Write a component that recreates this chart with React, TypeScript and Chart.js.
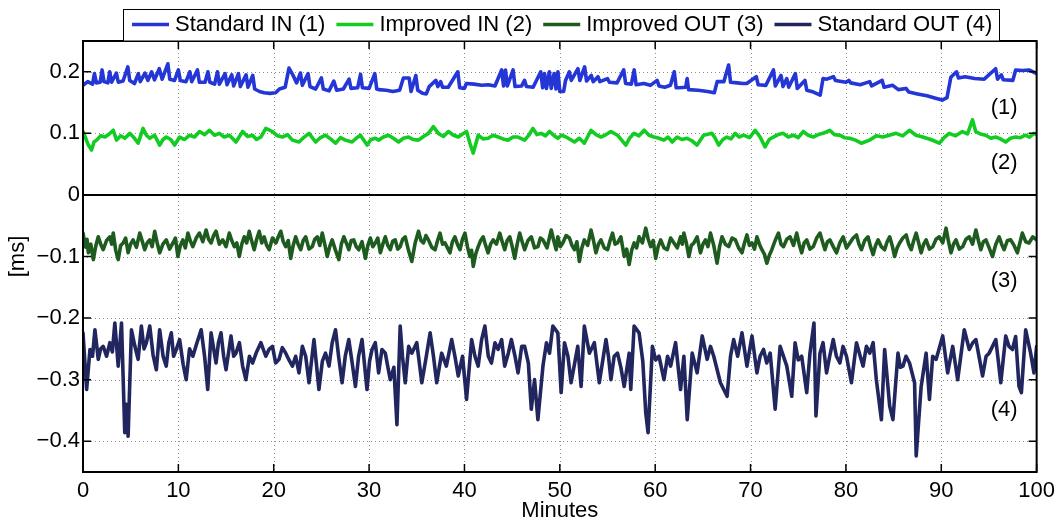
import React, { useEffect, useRef } from "react";
import { Chart, registerables } from "chart.js";

Chart.register(...registerables);

const FONT_FAMILY = '"Liberation Sans", Arial, Helvetica, sans-serif';

const seriesNames = ["Standard IN (1)", "Improved IN (2)", "Improved OUT (3)", "Standard OUT (4)"];
const seriesColors = ["#2536d6", "#12cc22", "#1e5b1f", "#21265f"];

// Series 1: Standard IN
const s1Minutes = [
  0, 0.5, 1, 1.2, 1.4, 1.8, 2, 2.2, 2.6, 2.8, 3, 3.5, 3.7, 4.2, 4.7, 4.9, 5.4, 5.8, 6, 6.5,
  6.8, 7.2, 7.5, 8, 8.3, 8.9, 9.1, 9.6, 10, 10.2, 10.8, 11.2, 11.4, 12, 12.2, 12.8, 13.1, 13.3, 13.8, 14.1,
  14.3, 14.9, 15.1, 15.6, 15.8, 16.3, 16.5, 17.1, 17.3, 17.8, 18, 18.5, 19, 19.6, 20.2, 20.6, 21.2, 21.6, 22, 22.4,
  22.8, 23, 23.6, 23.8, 24.4, 25, 25.2, 25.8, 26.3, 26.6, 27.3, 27.9, 28.1, 28.8, 29.1, 29.3, 30, 30.6, 30.8,
  31, 31.8, 32.5, 33.2, 33.6, 34.2, 34.4, 34.9, 35.1, 35.6, 36, 36.3, 37, 37.2, 37.5, 37.7, 38.3, 39.3, 39.5, 40,
  40.2, 41, 41.8, 42.5, 43.2, 43.9, 44.1, 44.3, 44.5, 45.1, 45.3, 46, 46.3, 46.5, 47.2, 48, 48.2, 48.4, 48.6, 48.9,
  49.1, 49.4, 49.6, 49.8, 50, 50.4, 50.6, 51, 51.2, 51.9, 52.1, 52.6, 52.8, 53.3, 53.5, 54, 54.2, 55, 55.2, 56,
  56.7, 56.9, 57.5, 57.8, 58, 58.8, 59.5, 60.2, 60.4, 61, 61.6, 62, 62.2,
  62.5, 63.2, 63.35, 63.5, 64.5, 65.5, 66.2, 66.5, 67.2, 67.7, 67.9, 68.6, 69.2, 69.6, 70.6, 70.8, 71.6, 72.4, 72.6, 73.2,
  73.4, 73.8, 74, 74.7, 74.9, 75.7, 75.9, 76.6, 77.3, 77.6, 78, 78.7, 78.9, 80, 80.3, 80.5, 81.5, 82.5, 82.7, 83.8,
  84, 84.9, 85.5, 86.3, 86.6, 87.5, 88.5, 89.4, 90.1, 90.6, 91, 91.6, 91.8, 92.5, 93.5, 94.5, 95.7, 95.9, 96.3, 96.5,
  97.5, 97.8, 98.5, 99.2, 100,
];
const s1Values = [
  0.178, 0.184, 0.180, 0.197, 0.182, 0.183, 0.203, 0.184, 0.182, 0.200, 0.183, 0.198, 0.183, 0.185, 0.208, 0.186, 0.181, 0.197, 0.184, 0.198,
  0.186, 0.200, 0.187, 0.205, 0.188, 0.213, 0.188, 0.186, 0.203, 0.186, 0.184, 0.200, 0.184, 0.203, 0.183, 0.183, 0.200, 0.183, 0.180, 0.200,
  0.180, 0.197, 0.179, 0.195, 0.177, 0.197, 0.176, 0.195, 0.175, 0.194, 0.172, 0.168, 0.166, 0.165, 0.166, 0.172, 0.175, 0.206, 0.195, 0.182,
  0.198, 0.178, 0.197, 0.176, 0.172, 0.190, 0.172, 0.169, 0.185, 0.170, 0.172, 0.188, 0.173, 0.174, 0.196, 0.174, 0.173, 0.197, 0.172,
  0.171, 0.170, 0.168, 0.170, 0.190, 0.190, 0.168, 0.194, 0.170, 0.165, 0.164, 0.176, 0.186, 0.176, 0.184, 0.175, 0.175, 0.200, 0.174, 0.173,
  0.181, 0.180, 0.178, 0.179, 0.177, 0.203, 0.177, 0.203, 0.177, 0.203, 0.176, 0.177, 0.186, 0.176, 0.175, 0.200, 0.174, 0.197, 0.173, 0.200,
  0.173, 0.197, 0.172, 0.200, 0.168, 0.168, 0.186, 0.200, 0.186, 0.205, 0.186, 0.208, 0.185, 0.194, 0.184, 0.192, 0.184, 0.189, 0.183, 0.182,
  0.203, 0.181, 0.180, 0.203, 0.179, 0.181, 0.178, 0.186, 0.177, 0.175, 0.178, 0.200, 0.174,
  0.174, 0.175, 0.189, 0.171, 0.170, 0.168, 0.166, 0.184, 0.184, 0.211, 0.183, 0.182, 0.181, 0.181, 0.192, 0.179, 0.178, 0.203, 0.177, 0.194,
  0.176, 0.189, 0.175, 0.197, 0.173, 0.186, 0.170, 0.167, 0.162, 0.189, 0.188, 0.192, 0.186, 0.183, 0.186, 0.182, 0.179, 0.184, 0.177, 0.186,
  0.175, 0.178, 0.171, 0.173, 0.167, 0.164, 0.161, 0.157, 0.154, 0.158, 0.191, 0.200, 0.190, 0.192, 0.189, 0.188, 0.205, 0.188, 0.195, 0.187,
  0.186, 0.203, 0.202, 0.203, 0.197,
];

// Series 2: Improved IN, [minute, value]
const s2Points: [number, number][] = [
  [0, 0.103], [0.28, 0.092], [0.56, 0.081], [0.9, 0.073], [1.15, 0.086], [1.43, 0.089], [1.85, 0.096], [2.3, 0.094], [2.75, 0.099], [3.17, 0.105],
  [3.52, 0.089], [3.95, 0.096], [4.39, 0.092], [4.91, 0.1], [5.35, 0.093], [5.78, 0.084], [6.3, 0.108], [6.65, 0.097], [7, 0.092], [7.5, 0.097],
  [8.04, 0.081], [8.4, 0.09], [8.74, 0.094], [9.2, 0.09], [9.61, 0.081], [10.13, 0.094], [10.65, 0.09], [11.17, 0.097], [11.7, 0.094], [12.22, 0.103],
  [12.75, 0.098], [13.26, 0.105], [13.8, 0.097], [14.3, 0.1], [14.8, 0.094], [15.35, 0.097], [16.04, 0.086], [16.74, 0.103], [17.25, 0.095], [17.78, 0.097],
  [18.2, 0.09], [18.65, 0.094], [19.17, 0.108], [19.87, 0.103], [20.4, 0.096], [20.91, 0.094], [21.45, 0.098], [21.96, 0.089], [22.65, 0.086], [23.2, 0.094],
  [23.7, 0.1], [24.39, 0.086], [24.9, 0.093], [25.43, 0.097], [25.95, 0.091], [26.48, 0.084], [27, 0.093], [27.52, 0.089], [28.22, 0.086], [28.65, 0.092],
  [29.09, 0.097], [29.79, 0.081], [30.2, 0.09], [30.66, 0.092], [31, 0.089], [31.5, 0.094], [32.04, 0.097], [32.55, 0.092], [33.09, 0.086], [33.6, 0.092],
  [34.13, 0.094], [34.65, 0.09], [35.18, 0.089], [35.7, 0.095], [36.22, 0.1], [36.74, 0.111], [37.26, 0.1], [37.8, 0.095], [38.31, 0.103], [38.85, 0.097],
  [39.35, 0.094], [39.8, 0.099], [40.22, 0.103], [40.57, 0.084], [40.92, 0.068], [41.44, 0.097], [41.95, 0.091], [42.48, 0.092], [43, 0.097], [43.53, 0.094],
  [44.05, 0.091], [44.57, 0.089], [45.1, 0.094], [45.61, 0.094], [46.31, 0.089], [46.75, 0.097], [47.18, 0.108], [47.6, 0.098], [48.05, 0.1], [48.5, 0.096],
  [48.92, 0.103], [49.35, 0.097], [49.79, 0.092], [50.2, 0.097], [50.66, 0.094], [51.1, 0.09], [51.53, 0.086], [52.05, 0.092], [52.57, 0.084], [53.27, 0.105],
  [53.8, 0.098], [54.31, 0.094], [54.85, 0.098], [55.36, 0.103], [56.05, 0.097], [56.92, 0.081], [57.35, 0.093], [57.79, 0.1], [58.3, 0.096], [58.84, 0.105],
  [59.35, 0.097], [59.88, 0.094], [60.4, 0.092], [60.92, 0.089], [61.35, 0.094], [61.79, 0.086], [62.3, 0.094], [62.8, 0.09], [63.34, 0.092], [63.85, 0.088],
  [64.39, 0.081], [65.08, 0.097], [65.95, 0.1], [66.3, 0.092], [66.65, 0.081], [67.1, 0.09], [67.52, 0.094], [67.95, 0.091], [68.39, 0.1], [68.8, 0.094],
  [69.26, 0.097], [69.9, 0.093], [70.48, 0.105], [71, 0.094], [71.52, 0.078], [71.95, 0.09], [72.39, 0.094], [72.9, 0.098], [73.43, 0.1], [73.95, 0.094],
  [74.48, 0.097], [75, 0.093], [75.52, 0.103], [76.05, 0.097], [76.57, 0.094], [77.1, 0.098], [77.61, 0.1], [78.3, 0.105], [78.8, 0.098], [79.35, 0.097],
  [79.85, 0.093], [80.39, 0.092], [81, 0.089], [81.61, 0.084], [82.48, 0.089], [83.2, 0.096], [83.87, 0.094], [84.55, 0.097], [85.26, 0.1], [85.95, 0.096],
  [86.66, 0.105], [87.35, 0.097], [88.05, 0.094], [88.9, 0.09], [89.79, 0.084], [90.3, 0.093], [90.83, 0.1], [91.5, 0.096], [92.22, 0.103], [92.75, 0.099],
  [93.27, 0.122], [93.61, 0.103], [94.1, 0.099], [94.66, 0.097], [95.2, 0.092], [95.7, 0.094], [96.2, 0.091], [96.75, 0.086], [97.25, 0.092], [97.79, 0.094],
  [98.3, 0.093], [98.83, 0.097], [99.25, 0.094], [99.7, 0.1], [100, 0.098],
];

// Series 3: Improved OUT, [minute, value]
const s3Points: [number, number][] = [
  [0, -0.062], [0.28, -0.085], [0.42, -0.072], [0.56, -0.094], [0.82, -0.08], [1.08, -0.105], [1.34, -0.083], [1.6, -0.068], [1.86, -0.08], [2.12, -0.089],
  [2.47, -0.074], [2.82, -0.068], [3, -0.08], [3.17, -0.062], [3.43, -0.09], [3.69, -0.105], [3.95, -0.082], [4.21, -0.078], [4.47, -0.07], [4.73, -0.094],
  [4.99, -0.08], [5.25, -0.073], [5.6, -0.085], [5.95, -0.062], [6.21, -0.075], [6.47, -0.089], [6.73, -0.078], [6.99, -0.073], [7.25, -0.084], [7.52, -0.059],
  [7.78, -0.078], [8.04, -0.094], [8.38, -0.08], [8.73, -0.073], [9.08, -0.088], [9.43, -0.078], [9.69, -0.07], [9.95, -0.1], [10.21, -0.082], [10.47, -0.073],
  [10.73, -0.086], [11, -0.062], [11.26, -0.075], [11.52, -0.084], [11.87, -0.07], [12.21, -0.062], [12.56, -0.076], [12.91, -0.057], [13.17, -0.072], [13.43, -0.078],
  [13.69, -0.066], [13.95, -0.059], [14.3, -0.08], [14.65, -0.073], [15, -0.084], [15.34, -0.062], [15.6, -0.074], [15.87, -0.084], [16.13, -0.078], [16.39, -0.1],
  [16.65, -0.08], [16.91, -0.068], [17.17, -0.078], [17.43, -0.059], [17.69, -0.075], [17.95, -0.089], [18.21, -0.072], [18.48, -0.059], [18.74, -0.078], [19, -0.068],
  [19.26, -0.082], [19.52, -0.089], [19.87, -0.07], [20.22, -0.078], [20.48, -0.068], [20.74, -0.059], [21, -0.076], [21.26, -0.084], [21.52, -0.074], [21.78, -0.103],
  [22.04, -0.082], [22.3, -0.068], [22.56, -0.08], [22.83, -0.089], [23.09, -0.074], [23.35, -0.068], [23.7, -0.088], [24.04, -0.084], [24.3, -0.072], [24.57, -0.068],
  [24.83, -0.082], [25.09, -0.062], [25.35, -0.08], [25.61, -0.1], [25.87, -0.084], [26.13, -0.073], [26.48, -0.09], [26.83, -0.105], [27.09, -0.08], [27.35, -0.068],
  [27.61, -0.078], [27.87, -0.089], [28.13, -0.074], [28.39, -0.073], [28.65, -0.084], [28.91, -0.089], [29.26, -0.076], [29.61, -0.103], [29.87, -0.082], [30.13, -0.07],
  [30.39, -0.084], [30.65, -0.078], [30.91, -0.07], [31.18, -0.094], [31.44, -0.08], [31.7, -0.068], [31.96, -0.082], [32.22, -0.089], [32.48, -0.075], [32.74, -0.073],
  [33, -0.088], [33.26, -0.084], [33.52, -0.072], [33.79, -0.068], [34.13, -0.09], [34.48, -0.108], [34.83, -0.078], [35.18, -0.059], [35.44, -0.074], [35.7, -0.078],
  [35.96, -0.066], [36.22, -0.073], [36.57, -0.085], [36.92, -0.089], [37.18, -0.074], [37.44, -0.062], [37.7, -0.08], [37.96, -0.078], [38.22, -0.086], [38.48, -0.094],
  [38.74, -0.076], [39, -0.068], [39.26, -0.08], [39.53, -0.089], [39.79, -0.072], [40.05, -0.062], [40.31, -0.084], [40.57, -0.1], [40.75, -0.09], [40.92, -0.116],
  [41.18, -0.096], [41.44, -0.084], [41.7, -0.074], [41.96, -0.068], [42.22, -0.082], [42.48, -0.094], [42.74, -0.08], [43.01, -0.073], [43.35, -0.08], [43.7, -0.062],
  [43.96, -0.076], [44.22, -0.089], [44.48, -0.074], [44.75, -0.068], [45.01, -0.084], [45.27, -0.103], [45.53, -0.08], [45.79, -0.062], [46.05, -0.076], [46.31, -0.089],
  [46.66, -0.074], [47.01, -0.068], [47.35, -0.086], [47.7, -0.084], [47.96, -0.07], [48.23, -0.073], [48.66, -0.086], [49.1, -0.057], [49.36, -0.074], [49.62, -0.089],
  [49.79, -0.068], [50.05, -0.084], [50.31, -0.078], [50.66, -0.066], [51.01, -0.07], [51.27, -0.082], [51.53, -0.089], [51.79, -0.076], [52.05, -0.108], [52.31, -0.086],
  [52.57, -0.073], [52.92, -0.082], [53.27, -0.057], [53.53, -0.074], [53.79, -0.094], [54.05, -0.08], [54.31, -0.073], [54.66, -0.086], [55.01, -0.089], [55.27, -0.074],
  [55.53, -0.062], [55.79, -0.08], [56.05, -0.078], [56.4, -0.068], [56.75, -0.1], [57.01, -0.088], [57.27, -0.113], [57.53, -0.09], [57.79, -0.078], [58.05, -0.086],
  [58.31, -0.068], [58.66, -0.078], [59.01, -0.054], [59.27, -0.072], [59.53, -0.084], [59.79, -0.074], [60.05, -0.103], [60.31, -0.084], [60.58, -0.073], [60.92, -0.086],
  [61.27, -0.089], [61.62, -0.07], [61.97, -0.078], [62.31, -0.086], [62.66, -0.068], [62.84, -0.08], [63.01, -0.062], [63.27, -0.078], [63.53, -0.1], [63.79, -0.082],
  [64.06, -0.078], [64.4, -0.068], [64.75, -0.094], [65.01, -0.08], [65.27, -0.073], [65.53, -0.084], [65.8, -0.062], [66.14, -0.082], [66.49, -0.111], [66.75, -0.084],
  [67.01, -0.068], [67.36, -0.08], [67.71, -0.084], [68.06, -0.07], [68.41, -0.073], [68.75, -0.086], [69.1, -0.094], [69.36, -0.078], [69.62, -0.065], [69.88, -0.082],
  [70.15, -0.078], [70.41, -0.088], [70.67, -0.068], [70.93, -0.08], [71.19, -0.089], [71.45, -0.096], [71.71, -0.111], [71.97, -0.098], [72.23, -0.089], [72.58, -0.074],
  [72.93, -0.062], [73.19, -0.08], [73.45, -0.084], [73.8, -0.072], [74.15, -0.068], [74.5, -0.082], [74.84, -0.062], [75.1, -0.08], [75.36, -0.094], [75.62, -0.078],
  [75.89, -0.073], [76.23, -0.088], [76.58, -0.084], [76.93, -0.07], [77.28, -0.062], [77.54, -0.076], [77.8, -0.089], [78.06, -0.076], [78.32, -0.073], [78.67, -0.084],
  [79.02, -0.094], [79.36, -0.078], [79.71, -0.068], [80.06, -0.086], [80.41, -0.078], [80.76, -0.07], [81.11, -0.065], [81.37, -0.08], [81.63, -0.089], [81.97, -0.074],
  [82.32, -0.068], [82.58, -0.084], [82.85, -0.097], [83.11, -0.082], [83.37, -0.073], [83.71, -0.084], [84.06, -0.089], [84.32, -0.076], [84.59, -0.068], [84.85, -0.082],
  [85.11, -0.1], [85.37, -0.086], [85.63, -0.078], [85.97, -0.07], [86.32, -0.065], [86.58, -0.08], [86.85, -0.089], [87.11, -0.074], [87.37, -0.062], [87.63, -0.078],
  [87.89, -0.094], [88.15, -0.08], [88.41, -0.073], [88.76, -0.088], [89.11, -0.084], [89.45, -0.072], [89.8, -0.068], [90.15, -0.078], [90.5, -0.054], [90.76, -0.076],
  [91.02, -0.094], [91.28, -0.08], [91.54, -0.073], [91.89, -0.088], [92.24, -0.084], [92.59, -0.072], [92.94, -0.068], [93.28, -0.08], [93.63, -0.057], [93.89, -0.074],
  [94.15, -0.089], [94.41, -0.076], [94.68, -0.073], [95.02, -0.086], [95.37, -0.1], [95.72, -0.08], [96.07, -0.068], [96.33, -0.08], [96.59, -0.089], [96.93, -0.074],
  [97.28, -0.073], [97.63, -0.082], [97.98, -0.094], [98.24, -0.078], [98.5, -0.062], [98.85, -0.076], [99.2, -0.078], [99.6, -0.068], [100, -0.073],
];

// Series 4: Standard OUT, [minute, value]
const s4Points: [number, number][] = [
  [0, -0.224], [0.38, -0.316], [0.73, -0.251], [1, -0.262], [1.25, -0.219], [1.6, -0.267], [1.85, -0.25], [2.12, -0.246], [2.47, -0.262], [2.82, -0.24],
  [3.08, -0.255], [3.34, -0.208], [3.69, -0.278], [4.04, -0.208], [4.38, -0.386], [4.55, -0.34], [4.73, -0.392], [5.08, -0.219], [5.43, -0.245], [5.78, -0.267],
  [6.12, -0.213], [6.4, -0.25], [6.65, -0.24], [7, -0.213], [7.35, -0.26], [7.69, -0.284], [8.04, -0.219], [8.4, -0.262], [8.73, -0.278], [9, -0.24],
  [9.26, -0.224], [9.5, -0.262], [9.78, -0.251], [10.13, -0.235], [10.5, -0.275], [10.82, -0.3], [11.17, -0.25], [11.52, -0.262], [11.95, -0.24], [12.39, -0.219],
  [12.75, -0.262], [13.08, -0.316], [13.43, -0.224], [13.95, -0.273], [14.2, -0.24], [14.47, -0.224], [14.75, -0.262], [15, -0.284], [15.52, -0.229], [15.8, -0.262],
  [16.04, -0.257], [16.4, -0.24], [16.74, -0.278], [17.08, -0.3], [17.45, -0.262], [17.78, -0.273], [18.2, -0.255], [18.65, -0.24], [19.17, -0.262], [19.5, -0.251],
  [19.87, -0.246], [20.2, -0.273], [20.56, -0.267], [20.9, -0.248], [21.26, -0.257], [21.6, -0.268], [21.96, -0.278], [22.3, -0.262], [22.65, -0.289], [23, -0.246],
  [23.35, -0.262], [23.7, -0.305], [24.22, -0.235], [24.74, -0.316], [25.1, -0.27], [25.43, -0.257], [25.8, -0.278], [26.13, -0.24], [26.48, -0.219], [26.8, -0.262],
  [27.17, -0.305], [27.5, -0.262], [27.87, -0.235], [28.2, -0.27], [28.57, -0.311], [28.9, -0.262], [29.26, -0.235], [29.78, -0.316], [30.05, -0.27], [30.31, -0.251],
  [30.65, -0.24], [31, -0.289], [31.35, -0.251], [31.7, -0.257], [31.95, -0.278], [32.22, -0.3], [32.6, -0.28], [32.92, -0.373], [33.26, -0.213], [33.5, -0.262],
  [33.79, -0.305], [34.15, -0.246], [34.48, -0.257], [35, -0.24], [35.53, -0.305], [36, -0.262], [36.4, -0.224], [36.75, -0.262], [37.09, -0.305], [37.61, -0.257],
  [38.1, -0.278], [38.66, -0.235], [39, -0.262], [39.35, -0.294], [39.8, -0.262], [40.22, -0.332], [40.75, -0.235], [41.1, -0.262], [41.44, -0.278], [41.8, -0.235],
  [42.14, -0.213], [42.5, -0.262], [42.83, -0.273], [43.2, -0.24], [43.53, -0.251], [43.9, -0.235], [44.22, -0.278], [44.6, -0.257], [44.92, -0.235], [45.3, -0.262],
  [45.62, -0.289], [46, -0.246], [46.31, -0.246], [46.7, -0.273], [47.01, -0.348], [47.35, -0.3], [47.7, -0.365], [48.23, -0.278], [48.6, -0.24], [48.92, -0.257],
  [49.27, -0.213], [49.79, -0.224], [50.14, -0.321], [50.49, -0.24], [50.85, -0.262], [51.18, -0.305], [51.88, -0.246], [52.23, -0.311], [52.57, -0.213], [53.1, -0.257],
  [53.62, -0.24], [54.14, -0.305], [54.84, -0.235], [55.1, -0.262], [55.36, -0.3], [55.7, -0.262], [56.05, -0.257], [56.4, -0.28], [56.75, -0.311], [57.27, -0.257],
  [57.44, -0.316], [57.79, -0.213], [58.31, -0.224], [58.7, -0.27], [59.01, -0.354], [59.25, -0.386], [59.71, -0.246], [60.05, -0.268], [60.4, -0.262], [60.92, -0.3],
  [61.3, -0.262], [61.62, -0.278], [62.14, -0.24], [62.66, -0.316], [63.01, -0.262], [63.36, -0.365], [63.88, -0.257], [64.4, -0.289], [64.93, -0.229], [65.45, -0.267],
  [65.8, -0.246], [66.14, -0.262], [66.84, -0.305], [67.54, -0.327], [67.9, -0.262], [68.23, -0.235], [68.65, -0.262], [69.1, -0.224], [69.62, -0.278], [70.15, -0.229],
  [70.67, -0.289], [71, -0.262], [71.36, -0.251], [71.7, -0.273], [72.06, -0.257], [72.58, -0.348], [73.1, -0.246], [73.8, -0.278], [74.32, -0.327], [74.67, -0.24],
  [75, -0.268], [75.36, -0.262], [75.89, -0.321], [76.23, -0.257], [76.65, -0.208], [76.86, -0.359], [77.28, -0.257], [77.6, -0.24], [77.97, -0.289], [78.3, -0.262],
  [78.67, -0.235], [79, -0.262], [79.37, -0.273], [79.7, -0.246], [80.06, -0.262], [80.58, -0.305], [81.11, -0.24], [81.5, -0.262], [81.8, -0.278], [82.15, -0.246],
  [82.5, -0.257], [82.85, -0.24], [83.19, -0.3], [83.72, -0.365], [84.06, -0.251], [84.59, -0.343], [84.93, -0.365], [85.46, -0.257], [85.7, -0.28], [85.98, -0.278],
  [86.3, -0.262], [86.67, -0.273], [87.2, -0.305], [87.37, -0.424], [87.89, -0.311], [88.41, -0.257], [88.76, -0.332], [89.1, -0.262], [89.46, -0.267], [90.15, -0.229],
  [90.67, -0.289], [91.2, -0.246], [91.72, -0.3], [92.41, -0.219], [92.94, -0.251], [93.3, -0.24], [93.63, -0.235], [94.33, -0.294], [94.7, -0.262], [95.02, -0.257],
  [95.72, -0.235], [96.24, -0.305], [96.76, -0.229], [97.1, -0.246], [97.46, -0.251], [97.8, -0.23], [98.15, -0.311], [98.4, -0.321], [98.85, -0.219], [99.37, -0.257],
  [99.72, -0.289], [100, -0.246],
];

const xTicks = [0, 10, 20, 30, 40, 50, 60, 70, 80, 90, 100];
const yTicks = [-0.4, -0.3, -0.2, -0.1, 0, 0.1, 0.2];
const xMin = 0;
const xMax = 100;
const yMin = -0.45;
const yMax = 0.25;

const xAxisTitle = "Minutes";
const yAxisTitle = "[ms]";

const curveLabels = ["(1)", "(2)", "(3)", "(4)"];
const curveLabelMinutes = [96.6, 96.6, 96.6, 96.6];
const curveLabelValues = [0.141, 0.052, -0.139, -0.35];

function zip(m: number[], v: number[]) {
  const n = Math.min(m.length, v.length);
  const out: { x: number; y: number }[] = [];
  for (let i = 0; i < n; i++) out.push({ x: m[i], y: v[i] });
  return out;
}

function fromPairs(p: [number, number][]) {
  return p.map(([x, y]) => ({ x, y }));
}

function fmtY(v: number) {
  if (Math.abs(v) < 1e-9) return "0";
  const s = Math.abs(v).toFixed(1);
  return v < 0 ? "\u2212" + s : s;
}

const FONT = `22px ${FONT_FAMILY}`;

const matlabPlugin = {
  id: "matlabAxes",
  beforeDatasetsDraw(chart: any) {
    const { ctx, chartArea: a, scales } = chart;
    const xs = scales.x;
    const ys = scales.y;
    ctx.save();
    ctx.strokeStyle = "#8c8c8c";
    ctx.lineWidth = 1;
    ctx.setLineDash([1, 3]);
    for (const t of xTicks) {
      if (t <= xMin || t >= xMax) continue;
      const px = Math.round(xs.getPixelForValue(t)) + 0.5;
      ctx.beginPath();
      ctx.moveTo(px, a.top);
      ctx.lineTo(px, a.bottom);
      ctx.stroke();
    }
    for (const t of yTicks) {
      if (t === 0) continue;
      const py = Math.round(ys.getPixelForValue(t)) + 0.5;
      ctx.beginPath();
      ctx.moveTo(a.left, py);
      ctx.lineTo(a.right, py);
      ctx.stroke();
    }
    ctx.restore();
  },
  afterDatasetsDraw(chart: any) {
    const { ctx, chartArea: a, scales } = chart;
    const xs = scales.x;
    const ys = scales.y;
    ctx.save();
    ctx.setLineDash([]);
    ctx.strokeStyle = "#000";
    const y0 = ys.getPixelForValue(0);
    ctx.lineWidth = 2;
    ctx.beginPath();
    ctx.moveTo(a.left, y0);
    ctx.lineTo(a.right, y0);
    ctx.stroke();
    ctx.lineWidth = 1.5;
    const tl = 8;
    ctx.beginPath();
    for (const t of xTicks) {
      const px = xs.getPixelForValue(t);
      ctx.moveTo(px, a.bottom);
      ctx.lineTo(px, a.bottom - tl);
      ctx.moveTo(px, a.top);
      ctx.lineTo(px, a.top + tl);
    }
    for (const t of yTicks) {
      const py = ys.getPixelForValue(t);
      ctx.moveTo(a.left, py);
      ctx.lineTo(a.left + tl, py);
      ctx.moveTo(a.right, py);
      ctx.lineTo(a.right - tl, py);
    }
    ctx.stroke();
    ctx.lineWidth = 2;
    ctx.strokeRect(a.left, a.top, a.right - a.left, a.bottom - a.top);
    ctx.fillStyle = "#000";
    ctx.font = FONT;
    ctx.textAlign = "center";
    ctx.textBaseline = "middle";
    for (let i = 0; i < curveLabels.length; i++) {
      ctx.fillText(curveLabels[i], xs.getPixelForValue(curveLabelMinutes[i]), ys.getPixelForValue(curveLabelValues[i]));
    }
    ctx.fillText(xAxisTitle, (a.left + a.right) / 2, 511);
    ctx.translate(18, (a.top + a.bottom) / 2);
    ctx.rotate(-Math.PI / 2);
    ctx.fillText(yAxisTitle, 0, 0);
    ctx.restore();
  },
  afterDraw(chart: any) {
    const { ctx } = chart;
    ctx.save();
    ctx.font = FONT;
    let x = 132;
    const items: { lx: number; tx: number }[] = [];
    let lastEnd = x;
    for (const name of seriesNames) {
      const w = ctx.measureText(name).width;
      items.push({ lx: x, tx: x + 43 });
      lastEnd = x + 43 + w;
      x = lastEnd + 11;
    }
    const left = 123.5;
    const right = Math.round(lastEnd + 7) + 0.5;
    ctx.fillStyle = "#fff";
    ctx.fillRect(left, 9.5, right - left, 31.5);
    ctx.strokeStyle = "#000";
    ctx.lineWidth = 1;
    ctx.strokeRect(left, 9.5, right - left, 31.5);
    ctx.textAlign = "left";
    ctx.textBaseline = "middle";
    seriesNames.forEach((name, i) => {
      ctx.strokeStyle = seriesColors[i];
      ctx.lineWidth = 3.5;
      ctx.beginPath();
      ctx.moveTo(items[i].lx, 24.5);
      ctx.lineTo(items[i].lx + 37, 24.5);
      ctx.stroke();
      ctx.fillStyle = "#000";
      ctx.fillText(name, items[i].tx, 25);
    });
    ctx.restore();
  },
};

export default function App() {
  const ref = useRef<HTMLCanvasElement>(null);
  useEffect(() => {
    const canvas = ref.current;
    if (!canvas) return;
    const data = [zip(s1Minutes, s1Values), fromPairs(s2Points), fromPairs(s3Points), fromPairs(s4Points)];
    const chart = new Chart(canvas, {
      type: "line",
      data: {
        datasets: data.map((d, i) => ({
          label: seriesNames[i],
          data: d,
          borderColor: seriesColors[i],
          backgroundColor: seriesColors[i],
          borderWidth: 3.6,
          pointRadius: 0,
          tension: 0,
          fill: false,
          borderJoinStyle: "round" as const,
          borderCapStyle: "round" as const,
        })),
      },
      options: {
        responsive: false,
        animation: false,
        devicePixelRatio: 1,
        layout: { padding: { top: 41, right: 20, bottom: 0, left: 0 } },
        plugins: { legend: { display: false }, tooltip: { enabled: false } },
        scales: {
          x: {
            type: "linear",
            min: xMin,
            max: xMax,
            afterBuildTicks: (s: any) => {
              s.ticks = xTicks.map((v) => ({ value: v }));
            },
            afterFit: (s: any) => {
              s.height = 50;
            },
            grid: { display: false, drawTicks: false },
            border: { display: false },
            ticks: {
              color: "#000",
              font: { family: FONT_FAMILY, size: 22 },
              padding: 6,
              maxRotation: 0,
              autoSkip: false,
              callback: (v: any) => String(v),
            },
          },
          y: {
            type: "linear",
            min: yMin,
            max: yMax,
            afterBuildTicks: (s: any) => {
              s.ticks = yTicks.map((v) => ({ value: v }));
            },
            afterFit: (s: any) => {
              s.width = 83;
            },
            grid: { display: false, drawTicks: false },
            border: { display: false },
            ticks: {
              color: "#000",
              font: { family: FONT_FAMILY, size: 22 },
              padding: 3,
              autoSkip: false,
              callback: (v: any) => fmtY(Number(v)),
            },
          },
        },
      },
      plugins: [matlabPlugin],
    });
    return () => chart.destroy();
  }, []);
  return (
    <div style={{ position: "fixed", left: 0, top: 0, width: 1061, height: 522, background: "#fff" }}>
      <canvas ref={ref} width={1061} height={522} style={{ display: "block", width: 1061, height: 522 }} />
    </div>
  );
}
